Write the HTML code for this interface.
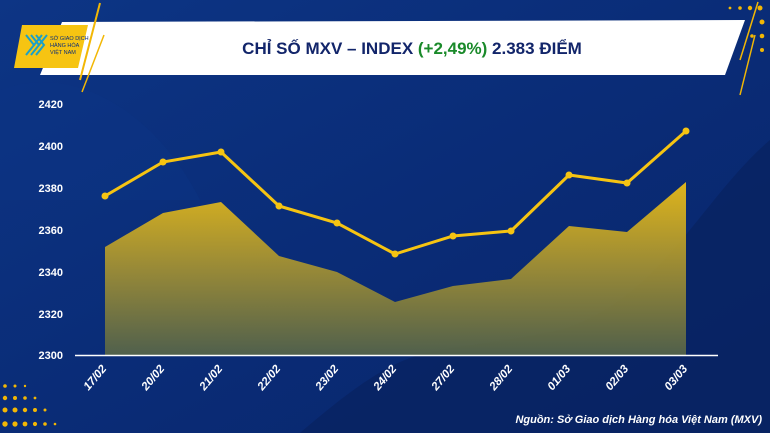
<!DOCTYPE html>
<html><head><meta charset="utf-8"><style>
html,body{margin:0;padding:0;width:770px;height:433px;overflow:hidden;background:#0a2d78;font-family:"Liberation Sans","DejaVu Sans",sans-serif;}
</style></head><body>
<svg width="770" height="433" xmlns="http://www.w3.org/2000/svg">
<defs>
<linearGradient id="bg" x1="0" y1="0" x2="1" y2="1">
<stop offset="0" stop-color="#0d3585"/><stop offset="0.5" stop-color="#0a2c77"/><stop offset="1" stop-color="#08256a"/></linearGradient>
<linearGradient id="ar" x1="0" y1="0" x2="0" y2="1">
<stop offset="0" stop-color="#f6c412"/><stop offset="0.5" stop-color="#a89430"/><stop offset="1" stop-color="#586648"/></linearGradient>
</defs>
<rect width="770" height="433" fill="url(#bg)"/>
<path d="M300 433 C420 330 420 360 560 330 C660 300 700 200 770 140 L770 433Z" fill="#082260" opacity="0.7"/>
<path d="M0 90 C80 60 160 120 200 200 L0 200Z" fill="#0b3383" opacity="0.5"/>
<g fill="#f2b705">
<circle cx="5" cy="410" r="2.5"/><circle cx="15" cy="410" r="2.5"/><circle cx="25" cy="410" r="2.2"/><circle cx="35" cy="410" r="2"/><circle cx="45" cy="410" r="1.5"/>
<circle cx="5" cy="398" r="2.2"/><circle cx="15" cy="398" r="2"/><circle cx="25" cy="398" r="1.8"/><circle cx="35" cy="398" r="1.4"/>
<circle cx="5" cy="386" r="1.8"/><circle cx="15" cy="386" r="1.5"/><circle cx="25" cy="386" r="1.2"/>
<circle cx="5" cy="424" r="2.7"/><circle cx="15" cy="424" r="2.6"/><circle cx="25" cy="424" r="2.4"/><circle cx="35" cy="424" r="2.1"/><circle cx="45" cy="424" r="1.8"/><circle cx="55" cy="424" r="1.3"/>
<circle cx="760" cy="8" r="2.5"/><circle cx="750" cy="8" r="2.2"/><circle cx="740" cy="8" r="1.8"/><circle cx="730" cy="8" r="1.4"/>
<circle cx="762" cy="22" r="2.5"/><circle cx="762" cy="36" r="2.3"/><circle cx="752" cy="36" r="1.8"/><circle cx="762" cy="50" r="2"/>
</g>
<polygon points="62,22 745,20 725,75 40,75" fill="#ffffff"/>
<line x1="100" y1="3" x2="80" y2="80" stroke="#f2b705" stroke-width="2"/>
<line x1="104" y1="35" x2="82" y2="92" stroke="#f2b705" stroke-width="1.5"/>
<line x1="758" y1="2" x2="740" y2="60" stroke="#f2b705" stroke-width="1.5"/>
<line x1="755" y1="35" x2="740" y2="95" stroke="#f2b705" stroke-width="1.5"/>
<polygon points="22,25 88,25 78,68 14,68" fill="#f6c412"/>
<g fill="none" stroke="#1aa0c8" stroke-width="2"><path d="M26 35 L34 45 L26 55 M31 35 L39 45 L31 55 M36 35 L44 45 L36 55"/><path d="M34 45 L42 35 M39 45 L47 35"/></g>
<text x="50" y="40" font-size="5.5" fill="#0a2d78">SỞ GIAO DỊCH</text>
<text x="50" y="47" font-size="5.5" fill="#0a2d78">HÀNG HÓA</text>
<text x="50" y="54" font-size="5.5" fill="#0a2d78">VIỆT NAM</text>
<text x="412" y="54" text-anchor="middle" font-size="17" font-weight="bold" fill="#12256a">CHỈ SỐ MXV – INDEX <tspan fill="#1a8a2a">(+2,49%)</tspan> 2.383 ĐIỂM</text>
<g fill="#fff" font-size="11" font-weight="bold" text-anchor="end">
<text x="63" y="108">2420</text><text x="63" y="150">2400</text><text x="63" y="192">2380</text><text x="63" y="234">2360</text><text x="63" y="276">2340</text><text x="63" y="318">2320</text><text x="63" y="359">2300</text>
</g>
<polygon points="105,247 163,213 221,202 279,256 337,272 395,302 453,286 511,279 569,226 627,232 686,182 686,355 105,355" fill="url(#ar)" opacity="0.9"/>
<line x1="75" y1="355.5" x2="718" y2="355.5" stroke="#fff" stroke-width="1.5"/>
<polyline points="105,196 163,162 221,152 279,206 337,223 395,254 453,236 511,231 569,175 627,183 686,131" fill="none" stroke="#f6c412" stroke-width="3"/>
<g fill="#f6c412"><circle cx="105" cy="196" r="3.5"/><circle cx="163" cy="162" r="3.5"/><circle cx="221" cy="152" r="3.5"/><circle cx="279" cy="206" r="3.5"/><circle cx="337" cy="223" r="3.5"/><circle cx="395" cy="254" r="3.5"/><circle cx="453" cy="236" r="3.5"/><circle cx="511" cy="231" r="3.5"/><circle cx="569" cy="175" r="3.5"/><circle cx="627" cy="183" r="3.5"/><circle cx="686" cy="131" r="3.5"/></g>
<g fill="#fff" font-size="11.5" font-weight="bold" font-style="italic" text-anchor="end">
<text transform="translate(107,369) rotate(-50)">17/02</text>
<text transform="translate(165,369) rotate(-50)">20/02</text>
<text transform="translate(223,369) rotate(-50)">21/02</text>
<text transform="translate(281,369) rotate(-50)">22/02</text>
<text transform="translate(339,369) rotate(-50)">23/02</text>
<text transform="translate(397,369) rotate(-50)">24/02</text>
<text transform="translate(455,369) rotate(-50)">27/02</text>
<text transform="translate(513,369) rotate(-50)">28/02</text>
<text transform="translate(571,369) rotate(-50)">01/03</text>
<text transform="translate(629,369) rotate(-50)">02/03</text>
<text transform="translate(688,369) rotate(-50)">03/03</text>
</g>
<text x="762" y="423" text-anchor="end" font-size="11" font-weight="bold" font-style="italic" fill="#fff">Nguồn: Sở Giao dịch Hàng hóa Việt Nam (MXV)</text>
</svg>
</body></html>
